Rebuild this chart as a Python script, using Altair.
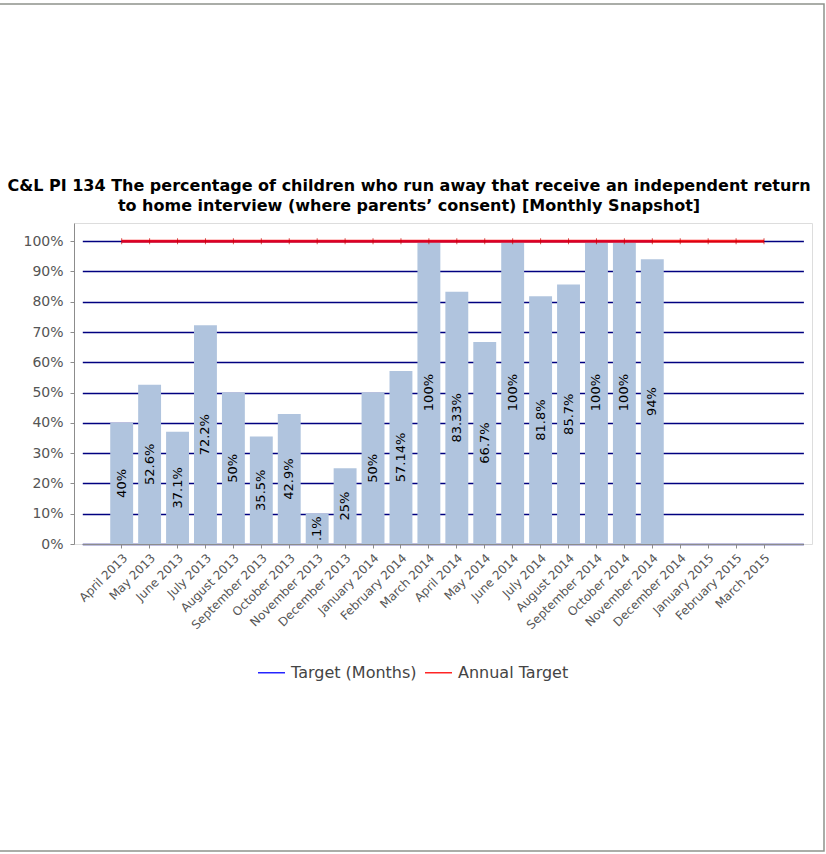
import altair as alt
import pandas as pd

# Reporting months, April 2013 to March 2015
months = [
    "April 2013", "May 2013", "June 2013", "July 2013", "August 2013",
    "September 2013", "October 2013", "November 2013", "December 2013",
    "January 2014", "February 2014", "March 2014", "April 2014", "May 2014",
    "June 2014", "July 2014", "August 2014", "September 2014", "October 2014",
    "November 2014", "December 2014", "January 2015", "February 2015", "March 2015",
]

# Monthly snapshot (%) - no figures yet for December 2014 onwards
values = [40, 52.6, 37.1, 72.2, 50, 35.5, 42.9, 10.1, 25, 50, 57.14, 100,
          83.33, 66.7, 100, 81.8, 85.7, 100, 100, 94, None, None, None, None]
value_labels = ["40%", "52.6%", "37.1%", "72.2%", "50%", "35.5%", "42.9%", ".1%",
                "25%", "50%", "57.14%", "100%", "83.33%", "66.7%", "100%", "81.8%",
                "85.7%", "100%", "100%", "94%", None, None, None, None]

# Targets
target_months = [100] * 20
annual_target = [100] * 24

# Y axis gridline / tick positions (%)
y_ticks = [0, 10, 20, 30, 40, 50, 60, 70, 80, 90, 100]

series_names = ["Target (Months)", "Annual Target"]
series_colors = ["#0000FF", "#FF0000"]

title_text = ("C&L PI 134 The percentage of children who run away that receive an independent return\n"
              "to home interview (where parents\u2019 consent) [Monthly Snapshot]")

bars_df = pd.DataFrame({"month": months, "value": values, "label": value_labels}).dropna()
tm_df = pd.DataFrame({"month": months[:len(target_months)], "value": target_months,
                      "series": series_names[0]})
at_df = pd.DataFrame({"month": months, "value": annual_target, "series": series_names[1]})

FONT = "DejaVu Sans"

x_enc = alt.X(
    "month:N",
    sort=months,
    scale=alt.Scale(domain=months, paddingInner=0.18, paddingOuter=1, range=[8.3, 729.4]),
    axis=alt.Axis(
        title=None, labelAngle=-45, labelAlign="right", labelBaseline="top",
        labelFontSize=12, labelColor="#555555", labelFont=FONT,
        domainColor="#8C8C8C", tickColor="#8C8C8C", tickSize=4, labelPadding=4,
        zindex=1,
    ),
)
y_scale = alt.Scale(domain=[0, 106], nice=False)
y_axis = alt.Axis(
    title=None, values=y_ticks, tickCount=len(y_ticks), labelOverlap=False,
    labelExpr="datum.value + '%'",
    labelFontSize=14, labelColor="#555555", labelFont=FONT, labelPadding=7,
    domainColor="#8C8C8C", tickColor="#8C8C8C", tickSize=4,
    grid=True, gridColor="#000080", gridWidth=1.6, gridOpacity=1,
)

color_scale = alt.Scale(domain=series_names, range=series_colors)
legend = alt.Legend(
    title=None, orient="none", direction="horizontal", legendX=183, legendY=435,
    symbolType="stroke", symbolSize=729, symbolStrokeWidth=1.5,
    labelFontSize=16, labelColor="#444444", labelFont=FONT, columnPadding=5,
    labelOffset=5,
)

bars = alt.Chart(bars_df).mark_bar(color="#B0C4DE").encode(
    x=x_enc, y=alt.Y("value:Q", scale=y_scale, axis=y_axis)
)

target_line = alt.Chart(tm_df).mark_line(strokeWidth=2).encode(
    x=alt.X("month:N", sort=months),
    y=alt.Y("value:Q", axis=y_axis),
    color=alt.Color("series:N", scale=color_scale, legend=legend),
)

annual_line = alt.Chart(at_df).mark_line(strokeWidth=3, opacity=0.85).encode(
    x=alt.X("month:N", sort=months),
    y=alt.Y("value:Q", axis=y_axis),
    color=alt.Color("series:N", scale=color_scale, legend=legend),
)

annual_marks = alt.Chart(at_df).mark_tick(
    orient="vertical", size=6, thickness=1, color="#C80000"
).encode(x=alt.X("month:N", sort=months), y=alt.Y("value:Q", axis=y_axis))

labels = alt.Chart(bars_df).transform_calculate(
    mid="datum.value / 2"
).mark_text(angle=270, align="center", baseline="middle", fontSize=13,
            font=FONT, color="#000000").encode(
    x=alt.X("month:N", sort=months), y=alt.Y("mid:Q", axis=y_axis), text="label:N"
)

# Two-line chart heading, centred on the page
heading = alt.Chart(alt.Data(values=[{"t": title_text}])).mark_text(
    font=FONT, fontWeight="bold", fontSize=16, color="#000000",
    align="center", baseline="alphabetic", lineBreak="\n", lineHeight=20,
).encode(x=alt.value(335), y=alt.value(-32), text="t:N")

# Thin grey frame round the whole graphic
frame = alt.Chart(alt.Data(values=[{}])).mark_rect(
    fillOpacity=0, stroke="#8E938C", strokeWidth=1.5
).encode(x=alt.value(-80), x2=alt.value(750), y=alt.value(-219), y2=alt.value(628))

chart = alt.layer(bars, target_line, annual_line, annual_marks, labels, heading, frame).properties(
    width=738,
    height=321,
    autosize=alt.AutoSizeParams(type="none"),
    padding={"left": 74, "top": 223, "right": 14, "bottom": 310},
).configure_view(fill="#FFFDE0", stroke=None).configure(background="#FFFFFF")

chart.save("out.html", embed_options={"renderer": "svg", "actions": False})
